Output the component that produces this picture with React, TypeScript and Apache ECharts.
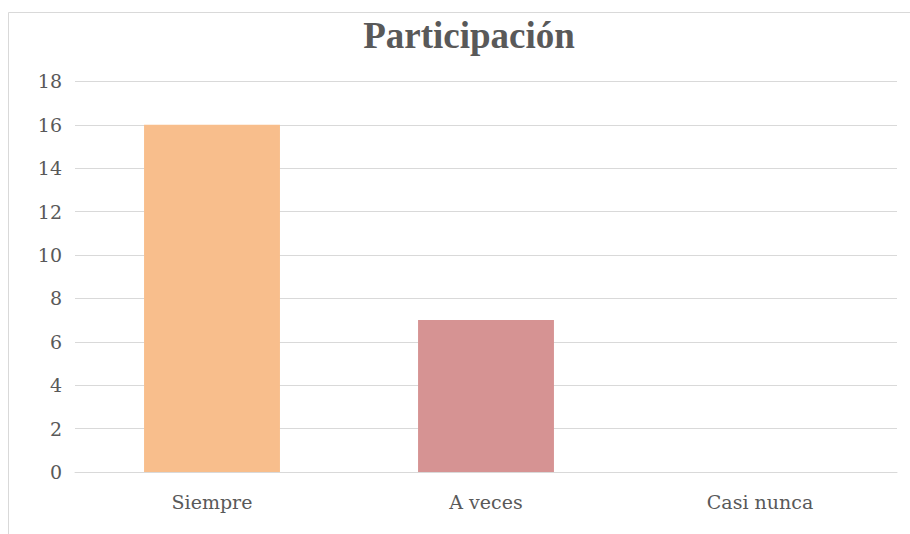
import React, { useEffect, useRef } from "react";
import * as echarts from "echarts";

const categories = ["Siempre", "A veces", "Casi nunca"];
const values = [16, 7, 0];
const barColors = ["#F8BE8C", "#D69393", "#A9C5E0"];
const titleText = "Participación";

export default function App() {
  const ref = useRef<HTMLDivElement>(null);
  useEffect(() => {
    if (!ref.current) return;
    const chart = echarts.init(ref.current, undefined, { renderer: "svg" });
    chart.setOption({
      animation: false,
      backgroundColor: "#ffffff",
      title: {
        text: titleText,
        left: 464,
        textAlign: "center",
        top: 12,
        textStyle: {
          fontFamily: "Liberation Serif",
          fontWeight: "bold",
          fontSize: 37,
          color: "#595959",
        },
      },
      graphic: [
        {
          type: "rect",
          shape: { x: 8.5, y: 12.5, width: 920, height: 540 },
          style: { fill: "none", stroke: "#D9D9D9", lineWidth: 1 },
          silent: true,
        },
      ],
      grid: { left: 75, right: 13, top: 81.4, bottom: 62 },
      xAxis: {
        type: "category",
        data: categories,
        axisLine: { show: true, lineStyle: { color: "#D9D9D9", width: 1 } },
        axisTick: { show: false },
        axisLabel: {
          margin: 20,
          fontFamily: "DejaVu Serif",
          fontSize: 19,
          color: "#595959",
        },
      },
      yAxis: {
        type: "value",
        min: 0,
        max: 18,
        interval: 2,
        axisLine: { show: false },
        axisTick: { show: false },
        splitLine: { lineStyle: { color: "#D9D9D9", width: 1 } },
        axisLabel: {
          margin: 13,
          fontFamily: "DejaVu Serif",
          fontSize: 19,
          color: "#595959",
        },
      },
      series: [
        {
          type: "bar",
          data: values.map((v, i) => ({ value: v, itemStyle: { color: barColors[i] } })),
          barWidth: "49.6%",
        },
      ],
    });
    return () => chart.dispose();
  }, []);
  return (
    <div
      ref={ref}
      style={{ position: "fixed", left: 0, top: 0, width: 910, height: 534 }}
    />
  );
}
